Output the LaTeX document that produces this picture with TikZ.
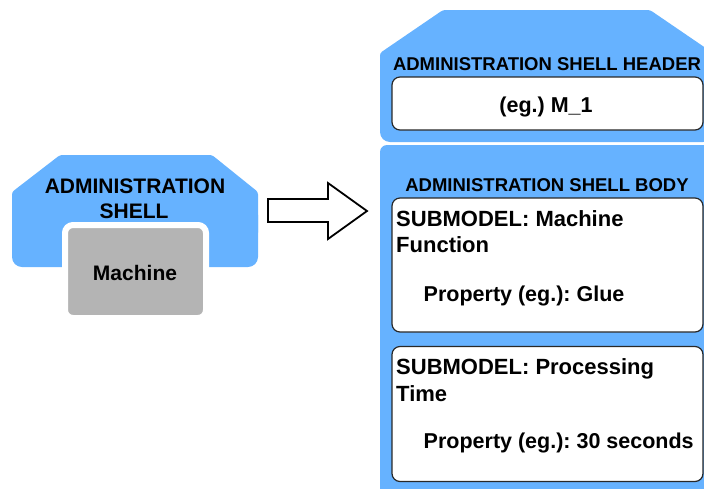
\documentclass[tikz,border=0pt]{standalone}
\usepackage{fontspec}
\setmainfont{Liberation Sans}
\definecolor{shellblue}{RGB}{102,178,255}
\definecolor{machinegray}{RGB}{180,180,180}
\definecolor{boxline}{RGB}{40,40,40}
\frenchspacing
\begin{document}
\begin{tikzpicture}[x=1pt,y=-1pt,
  txt/.style={inner sep=0pt, font=\bfseries\fontsize{#1}{#1}\selectfont},
  txt/.default=21,
  subbox/.style={draw=boxline, line width=1.2pt, fill=white, rounded corners=8pt, inner sep=0pt}]
\useasboundingbox (0,0) rectangle (704,488);
\clip (0,0) rectangle (704,488);

% ---- asset with its administration shell (left) ----
% bevelled top part, then the lower part with rounded corners
\fill[shellblue, rounded corners=2.5pt]
  (12,235) -- (12,192) -- (60,155) -- (212,155) -- (258,192) -- (258,235) -- cycle;
\fill[shellblue, rounded corners=10pt] (12,205) rectangle (258,267);
\node[txt=21, anchor=base] (shelltitleA) at (135,193) {ADMINISTRATION};
\node[txt=21, anchor=base] (shelltitleB) at (134,218) {SHELL};
\node[draw=white, line width=6pt, fill=machinegray, rounded corners=8pt,
      minimum width=141pt, minimum height=93pt, inner sep=0pt] (machine) at (135.5,271.5) {};
\node[txt=21, anchor=base] (machinelabel) at (135,280) {Machine};

% ---- block arrow ----
\draw[line width=1.8pt, fill=white, line join=miter]
  (268,199) -- (328,199) -- (328,183) -- (367,211) -- (328,239) -- (328,222) -- (268,222) -- cycle;

% ---- administration shell header ----
\fill[shellblue, rounded corners=2.5pt]
  (380,110) -- (380,53) -- (443,10) -- (650,10) -- (713,53) -- (713,110) -- cycle;
\fill[shellblue, rounded corners=10pt] (380,80) rectangle (713,142);
\node[txt=18.5, anchor=base] (headertitle) at (547,70) {ADMINISTRATION SHELL HEADER};
\node[subbox, minimum width=311pt, minimum height=53pt] (headerbox) at (547.5,103.5) {};
\node[txt=21.5, anchor=base] (headerid) at (546,112) {(eg.) M\_1};

% ---- administration shell body ----
\fill[shellblue, rounded corners=7pt]
  (380,520) -- (380,145) -- (713,145) -- (713,520) -- cycle;
\node[txt=18.5, anchor=base] (bodytitle) at (547,191) {ADMINISTRATION SHELL BODY};

% submodel: machine function
\node[subbox, minimum width=311pt, minimum height=134pt] (submodelA) at (547.5,265) {};
\node[txt=22, anchor=base west] (subAname1) at (396,226) {SUBMODEL: Machine};
\node[txt=22, anchor=base west] (subAname2) at (396,252) {Function};
\node[txt=21.5, anchor=base west] (subAprop) at (423.5,301) {Property (eg.): Glue};

% submodel: processing time
\node[subbox, minimum width=311pt, minimum height=135pt] (submodelB) at (547.5,414) {};
\node[txt=22, anchor=base west] (subBname1) at (396,374) {SUBMODEL: Processing};
\node[txt=22, anchor=base west] (subBname2) at (396,401) {Time};
\node[txt=21.5, anchor=base west] (subBprop) at (423.5,448) {Property (eg.): 30 seconds};
\end{tikzpicture}
\end{document}
